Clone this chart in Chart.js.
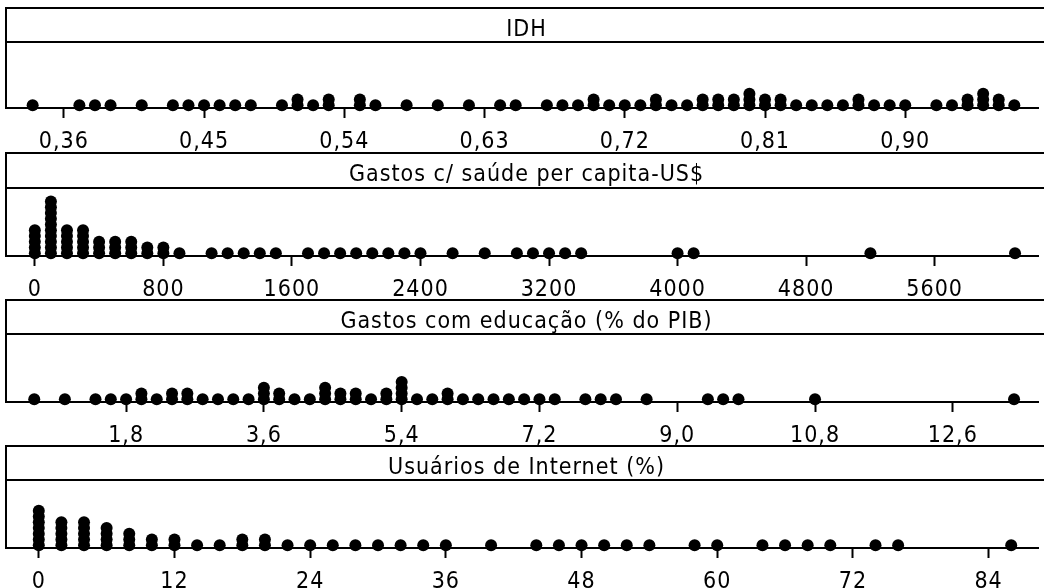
<!DOCTYPE html>
<html>
<head>
<meta charset="utf-8">
<script src="https://cdn.jsdelivr.net/npm/chart.js@4"></script>
<style>
html,body{margin:0;padding:0;background:#fff;overflow:hidden;}
#wrap{position:relative;width:1044px;height:588px;overflow:hidden;}
canvas{position:absolute;left:0;}
</style>
</head>
<body>
<div id="wrap"></div>
<script>
// ---------- DATA (bin value, number of stacked dots) ----------
const titles = ['IDH', 'Gastos c/ saúde per capita-US$', 'Gastos com educação (% do PIB)', 'Usuários de Internet (%)'];

const idhValues = [0.34,0.37,0.38,0.39,0.41,0.43,0.44,0.45,0.46,0.47,0.48,0.50,0.51,0.52,0.53,0.55,0.56,0.58,0.60,0.62,0.64,0.65,0.67,0.68,0.69,0.70,0.71,0.72,0.73,0.74,0.75,0.76,0.77,0.78,0.79,0.80,0.81,0.82,0.83,0.84,0.85,0.86,0.87,0.88,0.89,0.90,0.92,0.93,0.94,0.95,0.96,0.97];
const idhCounts = [1,1,1,1,1,1,1,1,1,1,1,1,2,1,2,2,1,1,1,1,1,1,1,1,1,2,1,1,1,2,1,1,2,2,2,3,2,2,1,1,1,1,2,1,1,1,1,1,2,3,2,1];
const idhTicks = [0.36,0.45,0.54,0.63,0.72,0.81,0.90];
const idhTickLabels = ['0,36','0,45','0,54','0,63','0,72','0,81','0,90'];

const healthValues = [0,100,200,300,400,500,600,700,800,900,1100,1200,1300,1400,1500,1700,1800,1900,2000,2100,2200,2300,2400,2600,2800,3000,3100,3200,3300,3400,4000,4100,5200,6100];
const healthCounts = [5,10,5,5,3,3,3,2,2,1,1,1,1,1,1,1,1,1,1,1,1,1,1,1,1,1,1,1,1,1,1,1,1,1];
const healthTicks = [0,800,1600,2400,3200,4000,4800,5600];
const healthTickLabels = ['0','800','1600','2400','3200','4000','4800','5600'];

const eduValues = [0.6,1.0,1.4,1.6,1.8,2.0,2.2,2.4,2.6,2.8,3.0,3.2,3.4,3.6,3.8,4.0,4.2,4.4,4.6,4.8,5.0,5.2,5.4,5.6,5.8,6.0,6.2,6.4,6.6,6.8,7.0,7.2,7.4,7.8,8.0,8.2,8.6,9.4,9.6,9.8,10.8,13.4];
const eduCounts = [1,1,1,1,1,2,1,2,2,1,1,1,1,3,2,1,1,3,2,2,1,2,4,1,1,2,1,1,1,1,1,1,1,1,1,1,1,1,1,1,1,1];
const eduTicks = [1.8,3.6,5.4,7.2,9.0,10.8,12.6];
const eduTickLabels = ['1,8','3,6','5,4','7,2','9,0','10,8','12,6'];

const netValues = [0,2,4,6,8,10,12,14,16,18,20,22,24,26,28,30,32,34,36,40,44,46,48,50,52,54,58,60,64,66,68,70,74,76,86];
const netCounts = [7,5,5,4,3,2,2,1,1,2,2,1,1,1,1,1,1,1,1,1,1,1,1,1,1,1,1,1,1,1,1,1,1,1,1];
const netTicks = [0,12,24,36,48,60,72,84];
const netTickLabels = ['0','12','24','36','48','60','72','84'];

// ---------- LAYOUT ----------
const FONT = '"DejaVu Sans Condensed", "Noto Sans", sans-serif';
const FONT_SIZE = 23;
const STEP_PX = 5.75;   // vertical distance between stacked dots
const DOT_LIFT = 2.7;   // bottom dot centre above axis line
const panels = [
  {title: titles[0], values: idhValues, counts: idhCounts, ticks: idhTicks, labels: idhTickLabels, min: 0.3229, max: 0.9852, boxTop: 8, headerY: 42, axisY: 108},
  {title: titles[1], values: healthValues, counts: healthCounts, ticks: healthTicks, labels: healthTickLabels, min: -179.4, max: 6243, boxTop: 153, headerY: 188, axisY: 256},
  {title: titles[2], values: eduValues, counts: eduCounts, ticks: eduTicks, labels: eduTickLabels, min: 0.231, max: 13.713, boxTop: 300, headerY: 334, axisY: 402},
  {title: titles[3], values: netValues, counts: netCounts, ticks: netTicks, labels: netTickLabels, min: -2.90, max: 88.37, boxTop: 446, headerY: 480, axisY: 548}
];

const wrap = document.getElementById('wrap');

panels.forEach((p) => {
  const canvasTop = p.boxTop - 8;
  const canvasH = Math.min(160, 588 - canvasTop);
  const cv = document.createElement('canvas');
  cv.width = 1044; cv.height = canvasH;
  cv.style.top = canvasTop + 'px';
  cv.style.width = '1044px'; cv.style.height = canvasH + 'px';
  wrap.appendChild(cv);

  const points = [];
  p.values.forEach((v, i) => {
    for (let k = 0; k < p.counts[i]; k++) points.push({x: v, y: k});
  });

  const areaH = p.axisY - p.headerY;
  const yMin = -DOT_LIFT / STEP_PX;
  const yMax = yMin + areaH / STEP_PX;
  const axisH = canvasH - (p.axisY - canvasTop);
  const boxTopLocal = p.boxTop - canvasTop;

  const framePlugin = {
    id: 'frame',
    beforeDraw(chart) { chart.ctx.letterSpacing = '1px'; },
    afterDraw(chart) {
      const ctx = chart.ctx, ca = chart.chartArea;
      ctx.save();
      ctx.strokeStyle = '#000';
      ctx.lineWidth = 2;
      ctx.lineCap = 'square';
      ctx.beginPath();
      ctx.moveTo(6, boxTopLocal); ctx.lineTo(1050, boxTopLocal);
      ctx.moveTo(6, ca.top); ctx.lineTo(1050, ca.top);
      ctx.moveTo(6, boxTopLocal); ctx.lineTo(6, ca.bottom);
      ctx.stroke();
      ctx.fillStyle = '#000';
      ctx.font = FONT_SIZE + 'px ' + FONT;
      ctx.letterSpacing = '1px';
      ctx.textAlign = 'center';
      ctx.textBaseline = 'alphabetic';
      ctx.fillText(p.title, 526.5, boxTopLocal + 27.5);
      ctx.restore();
    }
  };

  new Chart(cv, {
    type: 'scatter',
    data: {
      datasets: [{
        data: points,
        pointRadius: 6,
        pointHoverRadius: 6,
        backgroundColor: '#000',
        borderWidth: 0,
        clip: false
      }]
    },
    options: {
      responsive: false,
      animation: false,
      devicePixelRatio: 1,
      events: [],
      layout: {padding: {top: p.headerY - canvasTop, left: 6, right: 0, bottom: 0}},
      plugins: {legend: {display: false}, tooltip: {enabled: false}, title: {display: false}},
      scales: {
        x: {
          type: 'linear',
          position: 'bottom',
          min: p.min,
          max: p.max,
          afterBuildTicks: (s) => { s.ticks = p.ticks.map(v => ({value: v})); },
          afterFit: (s) => { s.height = axisH; s.paddingLeft = 0; s.paddingRight = 0; },
          grid: {display: true, drawOnChartArea: false, drawTicks: true, tickLength: 10, tickWidth: 2, tickColor: '#000', color: '#000'},
          border: {display: true, color: '#000', width: 2},
          ticks: {
            color: '#000',
            font: {family: FONT, size: FONT_SIZE},
            padding: 10,
            autoSkip: false,
            maxRotation: 0,
            minRotation: 0,
            callback: (v, i) => p.labels[i]
          }
        },
        y: {display: false, min: yMin, max: yMax}
      }
    },
    plugins: [framePlugin]
  });
});
</script>
</body>
</html>
